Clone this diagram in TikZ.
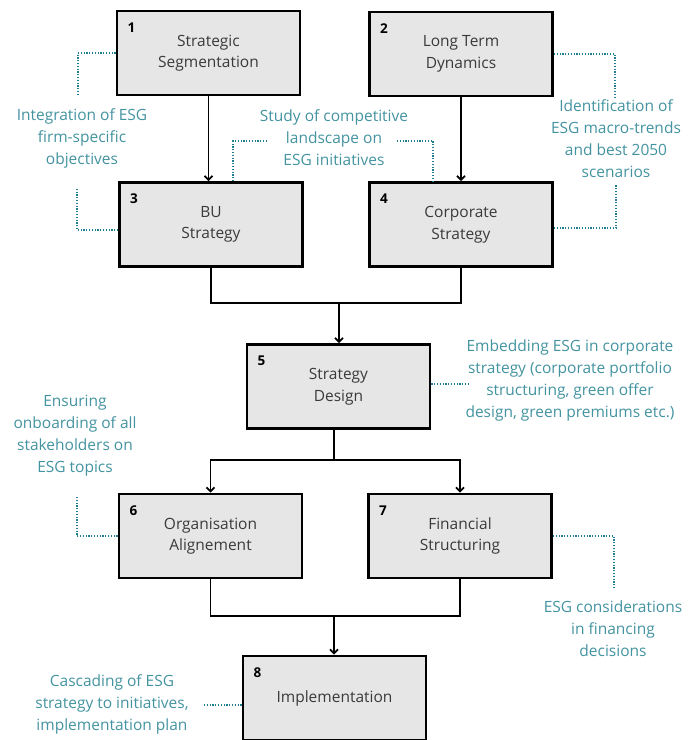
\documentclass[tikz,border=0pt]{standalone}
\usepackage{fontspec}
\setmainfont{Open Sans}
\usetikzlibrary{arrows.meta}
\definecolor{boxfill}{HTML}{E6E6E6}
\definecolor{noteteal}{HTML}{4393A0}
\definecolor{dotteal}{HTML}{1F7E8F}
\definecolor{titlegray}{HTML}{3A3A3A}
\begin{document}
\begin{tikzpicture}[x=1pt,y=-1pt,
 box/.style={draw=black,line width=2.8pt,fill=boxfill,minimum width=183pt,minimum height=84pt,inner sep=0pt,align=center,font=\fontsize{15.5}{21.5}\selectfont,text=titlegray},
 num/.style={font=\fontsize{13.5}{15}\selectfont\bfseries,anchor=center,inner sep=0pt},
 note/.style={align=center,text=noteteal,font=\fontsize{15.5}{22}\selectfont,inner sep=0pt},
 flow/.style={line width=1.8pt,black},
 arr/.style={flow,-{Straight Barb[length=4pt,width=8pt]}},
 dotl/.style={dotteal,line width=2pt,dash pattern=on 1.2pt off 1.6pt}]
\useasboundingbox (0,0) rectangle (697,740);
\clip (0,0) rectangle (697,740);
% boxes
\node[box] (b1) at (208.5,53) {Strategic\\Segmentation};
\node[box] (b2) at (461,54) {Long Term\\Dynamics};
\node[box] (b3) at (211,224.5) {BU\\Strategy};
\node[box] (b4) at (461,224.5) {Corporate\\Strategy};
\node[box] (b5) at (338.5,386.5) {Strategy\\Design};
\node[box] (b6) at (210.5,536) {Organisation\\Alignement};
\node[box] (b7) at (460,536) {Financial\\Structuring};
\node[box] (b8) at (334.5,698) {Implementation};
% numbers
\node[num] (k1) at ([shift={(16,18)}]b1.north west) {1};
\node[num] (k2) at ([shift={(16,18)}]b2.north west) {2};
\node[num] (k3) at ([shift={(16,18)}]b3.north west) {3};
\node[num] (k4) at ([shift={(16,18)}]b4.north west) {4};
\node[num] (k5) at ([shift={(16,18)}]b5.north west) {5};
\node[num] (k6) at ([shift={(16,18)}]b6.north west) {6};
\node[num] (k7) at ([shift={(16,18)}]b7.north west) {7};
\node[num] (k8) at ([shift={(16,18)}]b8.north west) {8};
% notes
\node[note] (n1) at (82,138) {Integration of ESG\\firm-specific\\objectives};
\node[note] (n2) at (334,138) {Study of competitive\\landscape on\\ESG initiatives};
\node[note] (n3) at (616,139) {Identification of\\ESG macro-trends\\and best 2050\\scenarios};
\node[note] (n5) at (570,380.5) {Embedding ESG in corporate\\strategy (corporate portfolio\\structuring, green offer\\design, green premiums etc.)};
\node[note] (n6) at (75,435.5) {Ensuring\\onboarding of all\\stakeholders on\\ESG topics};
\node[note] (n7) at (613,629) {ESG considerations\\in financing\\decisions};
\node[note] (n8) at (112,704) {Cascading of ESG\\strategy to initiatives,\\implementation plan};
% flow connectors
\draw[arr] (b1.south) -- (b1.south |- b3.north);
\draw[arr] (b2.south) -- (b4.north);
\coordinate (j1) at (339,303);
\draw[flow] (b3.south) |- (j1) -| (b4.south);
\draw[arr] (j1) -- (j1 |- b5.north);
\coordinate (j2) at (334,460);
\draw[flow] (j2 |- b5.south) -- (j2);
\draw[arr] (j2) -| (b6.north);
\draw[arr] (j2) -| (b7.north);
\coordinate (j3) at (334,616);
\draw[flow] (b6.south) |- (j3) -| (b7.south);
\draw[arr] (j3) -- (j3 |- b8.north);
% dotted connectors
\coordinate (c1a) at (78,96);
\draw[dotl] (b1.west) -| (c1a);
\coordinate (c1b) at (77,189);
\draw[dotl] ([yshift=-5.5pt]b3.west) -| (c1b);
\coordinate (c2a) at (268,141);
\draw[dotl] ([xshift=22pt]b3.north) |- (c2a);
\coordinate (c2b) at (397,141);
\draw[dotl] (c2b) -| ([xshift=-28pt]b4.north);
\coordinate (c3a) at (615,97);
\draw[dotl] (b2.east) -| (c3a);
\coordinate (c3b) at (616,185);
\draw[dotl] ([yshift=-3.5pt]b4.east) -| (c3b);
\coordinate (c5) at (470,384);
\draw[dotl] (b5.east |- c5) -- (c5);
\coordinate (c6) at (77,496);
\draw[dotl] (b6.west) -| (c6);
\coordinate (c7) at (614,588);
\draw[dotl] (b7.east) -| (c7);
\coordinate (c8) at (204,705);
\draw[dotl] (c8) -- (b8.west |- c8);
\end{tikzpicture}
\end{document}
